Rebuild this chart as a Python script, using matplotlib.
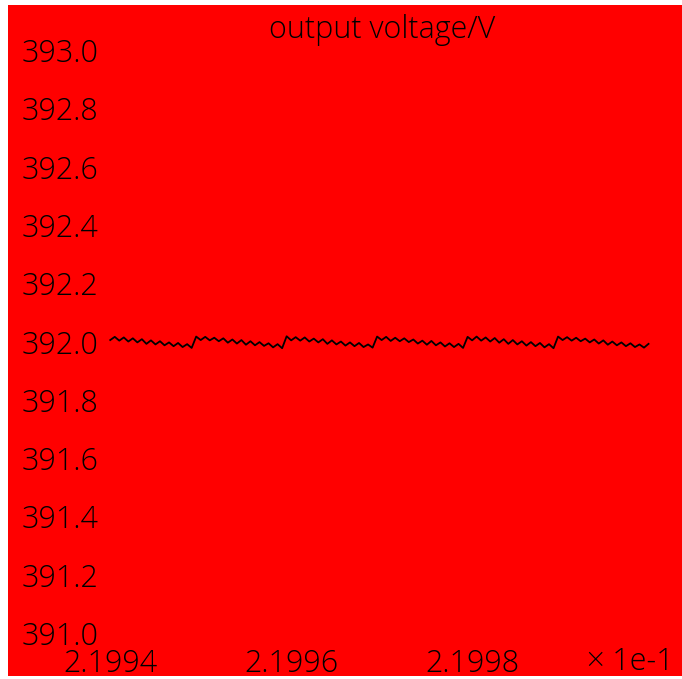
import numpy as np
import matplotlib.pyplot as plt

# sample times (microseconds after 0.21994 s)
t_us = [0.0, 0.5, 1.0, 1.5, 2.0, 2.5, 3.0, 3.5, 4.0, 4.5, 5.0, 5.5, 6.0, 6.5, 7.0, 7.5, 8.0, 8.5, 9.0,
        9.5, 10.0, 10.5, 11.0, 11.5, 12.0, 12.5, 13.0, 13.5, 14.0, 14.5, 15.0, 15.5, 16.0, 16.5, 17.0, 17.5, 18.0, 18.5, 19.0,
        19.5, 20.0, 20.5, 21.0, 21.5, 22.0, 22.5, 23.0, 23.5, 24.0, 24.5, 25.0, 25.5, 26.0, 26.5, 27.0, 27.5, 28.0, 28.5, 29.0,
        29.5, 30.0, 30.5, 31.0, 31.5, 32.0, 32.5, 33.0, 33.5, 34.0, 34.5, 35.0, 35.5, 36.0, 36.5, 37.0, 37.5, 38.0, 38.5, 39.0,
        39.5, 40.0, 40.5, 41.0, 41.5, 42.0, 42.5, 43.0, 43.5, 44.0, 44.5, 45.0, 45.5, 46.0, 46.5, 47.0, 47.5, 48.0, 48.5, 49.0,
        49.5, 50.0, 50.5, 51.0, 51.5, 52.0, 52.5, 53.0, 53.5, 54.0, 54.5, 55.0, 55.5, 56.0, 56.5, 57.0, 57.5, 58.0, 58.5, 59.0,
        59.5]

# output voltage (V)
v_out = [392.005, 392.016, 392.003, 392.014, 392.000, 392.011, 391.997, 392.008, 391.992, 392.004,
         391.990, 392.001, 391.987, 391.997, 391.984, 391.995, 391.981, 391.991, 391.978,
         392.017, 392.005, 392.016, 392.004, 392.013, 392.001, 392.011, 391.996, 392.007, 391.993,
         392.005, 391.989, 392.001, 391.987, 391.998, 391.985, 391.994, 391.980, 391.991, 391.977,
         392.018, 392.004, 392.015, 392.003, 392.014, 392.000, 392.010, 391.997, 392.008, 391.992,
         392.004, 391.990, 392.000, 391.986, 391.997, 391.984, 391.995, 391.981, 391.990, 391.979,
         392.017, 392.005, 392.016, 392.002, 392.013, 392.001, 392.011, 391.998, 392.007, 391.993,
         392.003, 391.989, 392.002, 391.987, 391.997, 391.983, 391.994, 391.981, 391.992, 391.978,
         392.016, 392.004, 392.017, 392.003, 392.014, 392.000, 392.012, 391.996, 392.008, 391.992,
         392.005, 391.990, 392.001, 391.986, 391.998, 391.984, 391.995, 391.980, 391.991, 391.977,
         392.017, 392.005, 392.015, 392.003, 392.013, 392.001, 392.010, 391.997, 392.007, 391.993,
         392.004, 391.989, 392.000, 391.987, 391.997, 391.984, 391.994, 391.981, 391.990, 391.979,
         391.992]

t_start = 0.21994
x_ticks = [0.21994, 0.21996, 0.21998]
x_labels = ['2.1994', '2.1996', '2.1998']
y_ticks = [391.0, 391.2, 391.4, 391.6, 391.8, 392.0, 392.2, 392.4, 392.6, 392.8, 393.0]
title = 'output voltage/V'
offset_text = '× 1e-1'

plt.rcParams['font.family'] = ['Open Sans', 'DejaVu Sans']

W, H = 682, 679
fig = plt.figure(figsize=(W / 100, H / 100), dpi=100, facecolor='white')
ax = fig.add_axes([8 / W, 3 / H, 674 / W, 671 / H], facecolor='#ff0000')

x = [t_start + t * 1e-6 for t in t_us]
ax.plot(x, v_out, color='black', lw=1.3)

ax.set_xlim(0.2199287, 0.2200032)
ax.set_ylim(390.853, 393.154)

for s in ax.spines.values():
    s.set_visible(False)

ax.set_xticks(x_ticks)
ax.set_xticklabels(x_labels)
ax.set_yticks(y_ticks)
ax.set_yticklabels([f'{v:.1f}' for v in y_ticks])
ax.tick_params(axis='both', length=0, labelsize=22, colors='black')
ax.tick_params(axis='y', pad=-10)
ax.tick_params(axis='x', pad=-20)
for lab in ax.get_yticklabels():
    lab.set_horizontalalignment('left')
    lab.set_fontweight('light')
for lab in ax.get_xticklabels():
    lab.set_fontweight('light')

ax.text(0.555, 0.951, title, transform=ax.transAxes, ha='center', va='baseline',
        fontsize=22, fontweight='light')
ax.text(0.923, 0.009, offset_text, transform=ax.transAxes, ha='center', va='baseline',
        fontsize=22, fontweight='light')

fig.savefig('out.png', dpi=100, facecolor='white')
